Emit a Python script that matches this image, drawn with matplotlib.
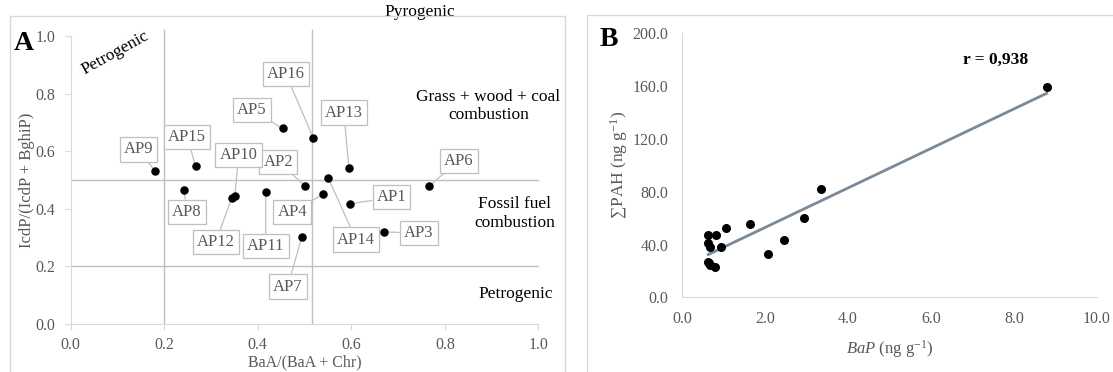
import numpy as np
import matplotlib
matplotlib.use('Agg')
import matplotlib.pyplot as plt
from matplotlib.patches import Rectangle

plt.rcParams['font.family'] = ['Liberation Serif', 'DejaVu Serif']
plt.rcParams['mathtext.fontset'] = 'custom'
plt.rcParams['mathtext.rm'] = 'Liberation Serif'
plt.rcParams['mathtext.it'] = 'Liberation Serif:italic'

# Panel A: diagnostic ratios per sample
samples = ['AP1', 'AP2', 'AP3', 'AP4', 'AP5', 'AP6', 'AP7', 'AP8',
           'AP9', 'AP10', 'AP11', 'AP12', 'AP13', 'AP14', 'AP15', 'AP16']
baa_ratio = [0.597, 0.501, 0.671, 0.539, 0.453, 0.767, 0.494, 0.242,
             0.180, 0.351, 0.417, 0.344, 0.595, 0.551, 0.267, 0.519]
icdp_ratio = [0.417, 0.480, 0.320, 0.450, 0.679, 0.480, 0.301, 0.464,
              0.532, 0.444, 0.460, 0.436, 0.541, 0.506, 0.549, 0.645]
baa_limits = [0.2, 0.515]
icdp_limits = [0.2, 0.5]

# Panel B: BaP vs total PAH
bap = [0.627, 0.805, 1.054, 1.633, 0.627, 0.668, 0.934, 0.627,
       0.645, 0.668, 0.789, 2.075, 2.453, 2.936, 3.346, 8.79]
sum_pah = [47.2, 47.2, 52.3, 55.3, 40.9, 38.3, 38.3, 27.0,
           26.0, 24.5, 22.7, 32.8, 43.4, 60.3, 82.0, 159.1]
r_text = 'r = 0,938'

# where the sample labels sit (layout)
label_xy = [(0.686, 0.440), (0.444, 0.563), (0.744, 0.315), (0.474, 0.388),
            (0.388, 0.743), (0.830, 0.567), (0.464, 0.130), (0.249, 0.390),
            (0.145, 0.606), (0.359, 0.587), (0.417, 0.270), (0.310, 0.284),
            (0.584, 0.734), (0.610, 0.293), (0.249, 0.650), (0.460, 0.868)]

tick_gray = '#595959'
axis_gray = '#d9d9d9'
line_gray = '#bfbfbf'

fig = plt.figure(figsize=(11.13, 3.72), dpi=100)

# chart-area borders
fig.patches.append(Rectangle((0.009, -0.1), 0.4986, 1.057, transform=fig.transFigure,
                             fill=False, edgecolor=axis_gray, lw=1))
fig.patches.append(Rectangle((0.5277, -0.1), 0.6, 1.0597, transform=fig.transFigure,
                             fill=False, edgecolor=axis_gray, lw=1))

# ---------- Panel A ----------
ax = fig.add_axes([0.0635, 0.129, 0.4202, 0.7742])
ax.set_xlim(0, 1.0)
ax.set_ylim(0, 1.0)
for s in ['top', 'right']:
    ax.spines[s].set_visible(False)
for s in ['left', 'bottom']:
    ax.spines[s].set_color(axis_gray)
ax.set_xticks(np.arange(0, 1.01, 0.2))
ax.set_yticks(np.arange(0, 1.01, 0.2))
ax.xaxis.set_major_formatter(matplotlib.ticker.FormatStrFormatter('%.1f'))
ax.yaxis.set_major_formatter(matplotlib.ticker.FormatStrFormatter('%.1f'))
ax.tick_params(axis='both', colors=axis_gray, labelcolor=tick_gray, labelsize=11.5,
               length=4, direction='out')
ax.tick_params(axis='x', pad=5)
ax.tick_params(axis='y', pad=7)

for xv in baa_limits:
    ax.plot([xv, xv], [0, 1.02], color=line_gray, lw=1, clip_on=False, zorder=1)
for yv in icdp_limits:
    ax.plot([0, 1.0], [yv, yv], color=line_gray, lw=1, clip_on=False, zorder=1)

ax.scatter(baa_ratio, icdp_ratio, s=26, color='black', zorder=4)

for name, px, py, (lx, ly) in zip(samples, baa_ratio, icdp_ratio, label_xy):
    ax.annotate(name, xy=(px, py), xytext=(lx, ly), ha='center', va='center',
                fontsize=12, color=tick_gray,
                bbox=dict(boxstyle='square,pad=0.25', fc='white', ec=line_gray, lw=0.9),
                arrowprops=dict(arrowstyle='-', color=line_gray, lw=0.9,
                                shrinkA=0, shrinkB=2),
                zorder=3, annotation_clip=False)

ax.text(0.096, 0.94, 'Petrogenic', rotation=29, ha='center', va='center', fontsize=12.5)
ax.text(0.747, 1.083, 'Pyrogenic', ha='center', va='center', fontsize=12.5, clip_on=False)
ax.text(0.893, 0.758, 'Grass + wood + coal\ncombustion', ha='center', va='center',
        fontsize=12.5, linespacing=1.2)
ax.text(0.950, 0.384, 'Fossil fuel\ncombustion', ha='center', va='center',
        fontsize=12.5, linespacing=1.2)
ax.text(0.952, 0.103, 'Petrogenic', ha='center', va='center', fontsize=12.5)

ax.set_xlabel('BaA/(BaA + Chr)', fontsize=11.5, color=tick_gray, labelpad=1)
ax.set_ylabel('IcdP/(IcdP + BghiP)', fontsize=12, color=tick_gray, labelpad=0.5)
fig.text(24 / 1113, 1 - 44 / 372, 'A', fontsize=20, fontweight='bold',
         ha='center', va='center')

# ---------- Panel B ----------
bx = fig.add_axes([0.6130, 0.2008, 0.3724, 0.7097])
bx.set_xlim(0, 10)
bx.set_ylim(0, 200)
for s in ['top', 'right']:
    bx.spines[s].set_visible(False)
for s in ['left', 'bottom']:
    bx.spines[s].set_color(axis_gray)
bx.set_xticks(np.arange(0, 10.01, 2))
bx.set_yticks(np.arange(0, 200.1, 40))
bx.xaxis.set_major_formatter(matplotlib.ticker.FormatStrFormatter('%.1f'))
bx.yaxis.set_major_formatter(matplotlib.ticker.FormatStrFormatter('%.1f'))
bx.tick_params(axis='both', length=0, labelcolor=tick_gray, labelsize=11.5)
bx.tick_params(axis='x', pad=10)
bx.tick_params(axis='y', pad=10)

slope, intercept = np.polyfit(bap, sum_pah, 1)
xs = np.array([min(bap), max(bap)])
bx.plot(xs, slope * xs + intercept, color='#7b8a99', lw=2, zorder=2)
bx.scatter(bap, sum_pah, s=30, color='black', zorder=3)

bx.text(7.56, 179.8, r_text, ha='center', va='center', fontsize=12.5, fontweight='bold')
bx.set_xlabel(r'$\mathit{BaP}$ (ng g$^{-1}$)', fontsize=12, color=tick_gray, labelpad=8)
bx.set_ylabel('\u2211PAH (ng g$^{-1}$)', fontsize=12.5, color=tick_gray, labelpad=2)
fig.text(609 / 1113, 1 - 40 / 372, 'B', fontsize=20, fontweight='bold',
         ha='center', va='center')

fig.savefig('out.png', dpi=100)
